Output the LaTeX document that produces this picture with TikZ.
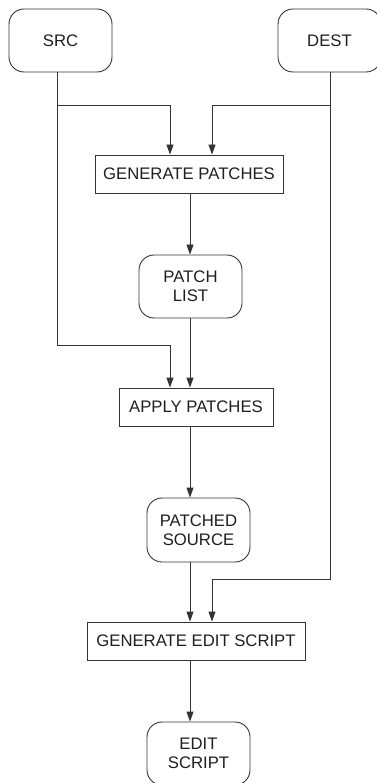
\documentclass[tikz,border=0pt]{standalone}
\usepackage{fontspec}
\setmainfont{Liberation Sans}
\usetikzlibrary{arrows.meta}
\begin{document}
\begin{tikzpicture}[x=1pt,y=-1pt,
  every node/.style={font=\fontsize{16.7}{19.5}\selectfont, text=black!88, inner sep=0pt, align=center},
  termbox/.style={draw=black!80, line width=0.9pt, rounded corners=15pt, minimum width=103pt, minimum height=63pt},
  procbox/.style={draw=black!80, line width=0.9pt, minimum height=38pt},
  flow/.style={draw=black!80, line width=0.9pt, -{Triangle[length=10pt,width=7pt]}},
  plain/.style={draw=black!80, line width=0.9pt}]
\useasboundingbox (0,0) rectangle (376,783);
\node[termbox] (src) at (60.5,40.5) {SRC};
\node[termbox] (dest) at (329.5,40.5) {DEST};
\node[procbox, minimum width=188pt] (gp) at (189,174) {GENERATE PATCHES};
\node[termbox] (pl) at (190.5,286.5) {PATCH\\LIST};
\node[procbox, minimum width=154pt] (ap) at (196,407) {APPLY PATCHES};
\node[termbox, minimum height=64pt] (ps) at (198.5,530) {PATCHED\\SOURCE};
\node[procbox, minimum width=218pt] (ge) at (196,641) {GENERATE EDIT SCRIPT};
\node[termbox] (es) at (198.5,753.5) {EDIT\\SCRIPT};
\coordinate (sx) at (57,0);
\coordinate (dx) at (330,0);
\coordinate (xl) at (170,0);
\coordinate (xr) at (212,0);
\coordinate (cx) at (190,0);
\coordinate (b1) at (0,105);
\coordinate (b2) at (0,345.5);
\coordinate (b3) at (0,579);
\draw[plain] (src.south -| sx) -- (sx |- b1);
\draw[flow] (sx |- b1) -| (gp.north -| xl);
\draw[flow] (sx |- b1) -- (sx |- b2) -| (ap.north -| xl);
\draw[plain] (dest.south -| dx) -- (dx |- b1);
\draw[flow] (dx |- b1) -| (gp.north -| xr);
\draw[flow] (dx |- b1) -- (dx |- b3) -| (ge.north -| xr);
\draw[flow] (gp.south -| cx) -- (pl.north -| cx);
\draw[flow] (pl.south -| cx) -- (ap.north -| cx);
\draw[flow] (ap.south -| cx) -- (ps.north -| cx);
\draw[flow] (ps.south -| cx) -- (ge.north -| cx);
\draw[flow] (ge.south -| cx) -- (es.north -| cx);
\end{tikzpicture}
\end{document}
